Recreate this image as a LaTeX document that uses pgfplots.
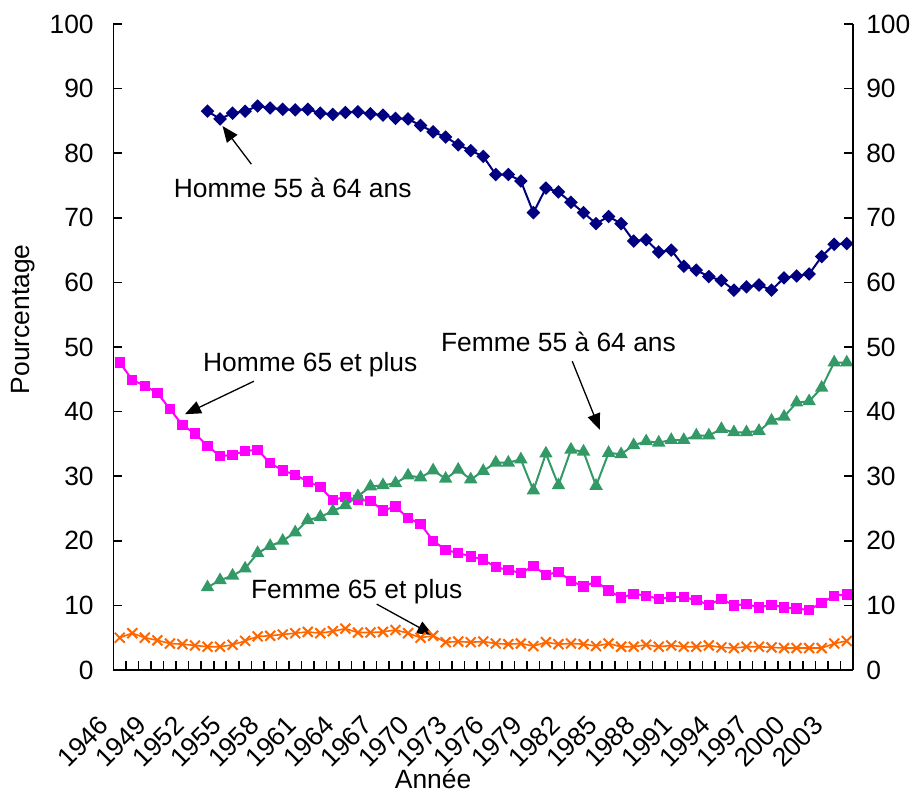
\documentclass[border=0pt]{standalone}
\usepackage{fontspec}
\setmainfont{Liberation Sans}
\usepackage{pgfplots}
\pgfplotsset{compat=1.18}
\usetikzlibrary{arrows.meta}
\definecolor{cNavy}{HTML}{000080}
\definecolor{cMag}{HTML}{FF00FF}
\definecolor{cGreen}{HTML}{339966}
\definecolor{cOrange}{HTML}{FF6600}
\begin{document}
\begin{tikzpicture}[font=\fontsize{13.2}{15.8}\selectfont]
\pgfplotsset{
  common/.style={
    scale only axis, width=369.75pt, height=323pt,
    xmin=1945.5, xmax=2004.5, ymin=0, ymax=100,
    tick align=inside,
    ytick={0,10,...,100},
    major tick length=4.5pt, minor tick length=4.5pt,
    /pgf/number format/assume math mode=true,
    /pgf/number format/1000 sep={},
    axis line style={line width=0.8pt},
    every tick/.append style={black, line width=0.8pt},
    clip=false,
  }
}
\begin{axis}[common, name=ax,
  axis x line*=bottom, axis y line*=left,
  xtick={1946,1949,...,2003},
  minor xtick={1945.5,1946.5,...,2004.5},
  every major x tick/.append style={draw=none},
  xticklabel style={xshift=-5.5pt, yshift=-23pt, rotate=45, anchor=east},
  yticklabel style={xshift=-6.4pt},
]
% Homme 55 a 64 ans
\addplot[color=cNavy, line width=1pt, mark=square*, mark size=1.9pt, mark options={rotate=45, solid}] coordinates {
(1953,86.5)(1954,85.3)(1955,86.2)(1956,86.5)(1957,87.3)(1958,87.0)(1959,86.8)(1960,86.7)
(1961,86.8)(1962,86.2)(1963,86.0)(1964,86.3)(1965,86.4)(1966,86.1)(1967,85.9)(1968,85.4)
(1969,85.3)(1970,84.3)(1971,83.3)(1972,82.5)(1973,81.3)(1974,80.4)(1975,79.5)(1976,76.7)
(1977,76.7)(1978,75.7)(1979,70.8)(1980,74.6)(1981,74.0)(1982,72.4)(1983,70.8)(1984,69.1)
(1985,70.2)(1986,69.1)(1987,66.4)(1988,66.6)(1989,64.7)(1990,65.0)(1991,62.5)(1992,61.9)
(1993,60.9)(1994,60.3)(1995,58.8)(1996,59.3)(1997,59.6)(1998,58.8)(1999,60.7)(2000,61.0)
(2001,61.3)(2002,64.0)(2003,65.9)(2004,66.0)};
% Homme 65 et plus
\addplot[color=cMag, line width=1pt, mark=square*, mark size=2.1pt, mark options={solid}] coordinates {
(1946,47.6)(1947,44.9)(1948,44.0)(1949,42.9)(1950,40.4)(1951,37.9)(1952,36.6)(1953,34.7)
(1954,33.1)(1955,33.3)(1956,33.9)(1957,34.1)(1958,32.0)(1959,30.9)(1960,30.2)(1961,29.2)
(1962,28.3)(1963,26.3)(1964,26.8)(1965,26.3)(1966,26.2)(1967,24.7)(1968,25.3)(1969,23.5)
(1970,22.6)(1971,20.0)(1972,18.6)(1973,18.1)(1974,17.6)(1975,17.1)(1976,15.9)(1977,15.5)
(1978,15.0)(1979,16.1)(1980,14.7)(1981,15.2)(1982,13.8)(1983,12.9)(1984,13.7)(1985,12.3)
(1986,11.2)(1987,11.8)(1988,11.5)(1989,11.0)(1990,11.3)(1991,11.3)(1992,10.8)(1993,10.1)
(1994,11.0)(1995,10.0)(1996,10.2)(1997,9.7)(1998,10.1)(1999,9.7)(2000,9.5)(2001,9.3)
(2002,10.4)(2003,11.5)(2004,11.7)};
% Femme 55 a 64 ans
\addplot[color=cGreen, line width=1pt, mark=triangle*, mark size=2.9pt, mark options={solid}] coordinates {
(1953,12.8)(1954,13.9)(1955,14.6)(1956,15.7)(1957,18.1)(1958,19.2)(1959,20.0)(1960,21.3)
(1961,23.2)(1962,23.7)(1963,24.6)(1964,25.5)(1965,26.9)(1966,28.4)(1967,28.6)(1968,28.9)
(1969,30.1)(1970,29.8)(1971,30.9)(1972,29.6)(1973,31.0)(1974,29.5)(1975,30.8)(1976,32.1)
(1977,32.1)(1978,32.6)(1979,27.8)(1980,33.5)(1981,28.6)(1982,34.1)(1983,33.8)(1984,28.5)
(1985,33.6)(1986,33.4)(1987,34.8)(1988,35.4)(1989,35.2)(1990,35.6)(1991,35.6)(1992,36.3)
(1993,36.3)(1994,37.3)(1995,36.8)(1996,36.8)(1997,37.0)(1998,38.6)(1999,39.2)(2000,41.4)
(2001,41.6)(2002,43.7)(2003,47.6)(2004,47.6)};
% Femme 65 et plus
\addplot[color=cOrange, line width=0.8pt, mark=x, mark size=3.5pt, mark options={solid, line width=1pt}] coordinates {
(1946,5.0)(1947,5.7)(1948,5.0)(1949,4.6)(1950,4.1)(1951,4.0)(1952,3.8)(1953,3.6)
(1954,3.6)(1955,3.9)(1956,4.5)(1957,5.2)(1958,5.3)(1959,5.5)(1960,5.7)(1961,5.9)
(1962,5.7)(1963,6.0)(1964,6.4)(1965,5.8)(1966,5.8)(1967,5.9)(1968,6.2)(1969,5.7)
(1970,5.0)(1971,5.3)(1972,4.3)(1973,4.4)(1974,4.3)(1975,4.4)(1976,4.1)(1977,4.0)
(1978,4.1)(1979,3.7)(1980,4.3)(1981,4.0)(1982,4.1)(1983,4.0)(1984,3.7)(1985,4.1)
(1986,3.6)(1987,3.6)(1988,3.9)(1989,3.6)(1990,3.8)(1991,3.6)(1992,3.6)(1993,3.8)
(1994,3.5)(1995,3.4)(1996,3.6)(1997,3.6)(1998,3.5)(1999,3.4)(2000,3.4)(2001,3.4)
(2002,3.4)(2003,4.1)(2004,4.5)};
% annotations
\node at (axis cs:1959.8,74.6) {Homme 55 à 64 ans};
\draw[line width=0.65pt, -{Triangle[length=8pt,width=6.5pt]}] (axis cs:1956.5,78.3) -- (axis cs:1954.2,84.2);
\node at (axis cs:1961.2,47.2) {Homme 65 et plus};
\draw[line width=0.65pt, -{Triangle[length=8pt,width=6.5pt]}] (axis cs:1956.7,44.7) -- (axis cs:1951.2,39.6);
\node at (axis cs:1981.0,50.8) {Femme 55 à 64 ans};
\draw[line width=0.65pt, -{Triangle[length=8pt,width=6.5pt]}] (axis cs:1982.1,47.8) -- (axis cs:1984.3,37.2);
\node at (axis cs:1964.9,12.2) {Femme 65 et plus};
\draw[line width=0.65pt, -{Triangle[length=8pt,width=6.5pt]}] (axis cs:1966.5,10.2) -- (axis cs:1971.0,5.4);
% axis titles
\node[rotate=90] at ([xshift=-45.4pt]axis cs:1945.5,54.3) {Pourcentage};
\node at ([yshift=-54.5pt]axis cs:1971.0,0) {Année};
\end{axis}
\begin{axis}[common,
  axis y line*=right, axis x line=none,
  yticklabel style={xshift=3.1pt},
]
\end{axis}
\pgfresetboundingbox
\path (ax.south west) ++(-56.75pt,-61.5pt) rectangle ++(461pt,396.5pt);
\end{tikzpicture}
\end{document}
